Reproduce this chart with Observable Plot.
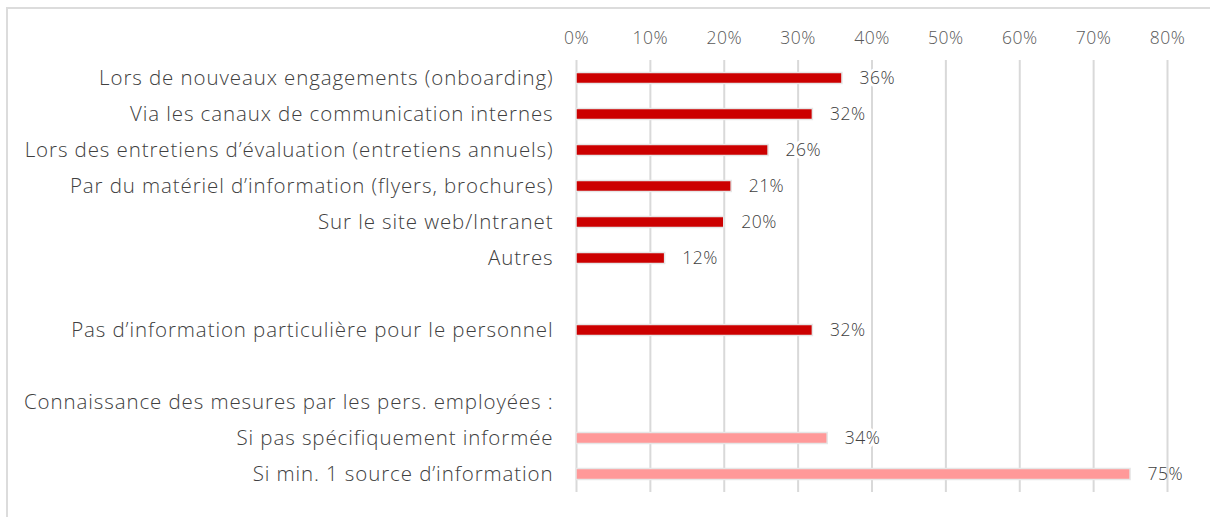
<!DOCTYPE html>
<html>
<head>
<meta charset="utf-8">
<script src="https://cdn.jsdelivr.net/npm/d3@7"></script>
<script src="https://cdn.jsdelivr.net/npm/@observablehq/plot@0.6"></script>
<style>
  html, body { margin: 0; padding: 0; background: #fff; }
  #wrap { position: relative; width: 1210px; height: 517px; overflow: hidden; }
  #frame { position: absolute; left: 6px; top: 7px; width: 1300px; height: 600px;
           border-left: 2px solid #dcdcdc; border-top: 2px solid #dcdcdc; }
  #chart { position: absolute; left: 0; top: 0; }
  #chart g[aria-label="y-axis tick label"] text { letter-spacing: 0.9px; }
  #chart g[aria-label="x-axis tick label"] text { letter-spacing: 0.5px; }
  #chart g[aria-label="text"] text { letter-spacing: 0.5px; }
</style>
</head>
<body>
<div id="wrap"><div id="frame"></div><div id="chart"></div></div>
<script>
const categories = [
  "Lors de nouveaux engagements (onboarding)",
  "Via les canaux de communication internes",
  "Lors des entretiens d’évaluation (entretiens annuels)",
  "Par du matériel d’information (flyers, brochures)",
  "Sur le site web/Intranet",
  "Autres",
  "_blank1",
  "Pas d’information particulière pour le personnel",
  "_blank2",
  "Connaissance des mesures par les pers. employées :",
  "Si pas spécifiquement informée",
  "Si min. 1 source d’information"
];
const values = [36, 32, 26, 21, 20, 12, null, 32, null, null, 34, 75];
const groups = ["canal", "canal", "canal", "canal", "canal", "canal", null, "canal", null, null, "connaissance", "connaissance"];
const xTicks = [0, 10, 20, 30, 40, 50, 60, 70, 80];

const data = categories.map((c, i) => ({category: c, value: values[i], group: groups[i]}))
  .filter(d => d.value != null);

const font = "'Open Sans', sans-serif";

const chart = Plot.plot({
  width: 1210,
  height: 517,
  marginLeft: 576,
  marginRight: 43,
  marginTop: 60,
  marginBottom: 25,
  style: {fontFamily: font, background: "transparent", overflow: "visible"},
  x: {domain: [0, 80], axis: null},
  y: {domain: categories, padding: 0, axis: null},
  color: {domain: ["canal", "connaissance"], range: ["#cc0000", "#ff9999"]},
  marks: [
    Plot.ruleX(xTicks, {stroke: "#d9d9d9", strokeWidth: 2}),
    Plot.axisX({
      anchor: "top", ticks: xTicks, tickSize: 0, tickPadding: 17, label: null,
      tickFormat: d => d + "%", fontSize: 17.5, fill: "#595959", fontWeight: 300
    }),
    Plot.axisY({
      anchor: "left", tickSize: 0, tickPadding: 23, label: null,
      tickFormat: d => d.startsWith("_blank") ? "" : d,
      fontSize: 20.5, fill: "#404040", fontWeight: 300
    }),
    Plot.barX(data, {
      x: "value", y: "category", fill: "group",
      stroke: "#e6e6e6", strokeWidth: 1.5, insetTop: 12.5, insetBottom: 12.5
    }),
    Plot.text(data, {
      x: "value", y: "category", text: d => d.value + "%",
      dx: 17, textAnchor: "start", fontSize: 17.5, fill: "#404040", fontWeight: 300,
      stroke: d => d.value === 75 ? "none" : "white", strokeWidth: 6
    })
  ]
});
document.getElementById("chart").appendChild(chart);
</script>
</body>
</html>
